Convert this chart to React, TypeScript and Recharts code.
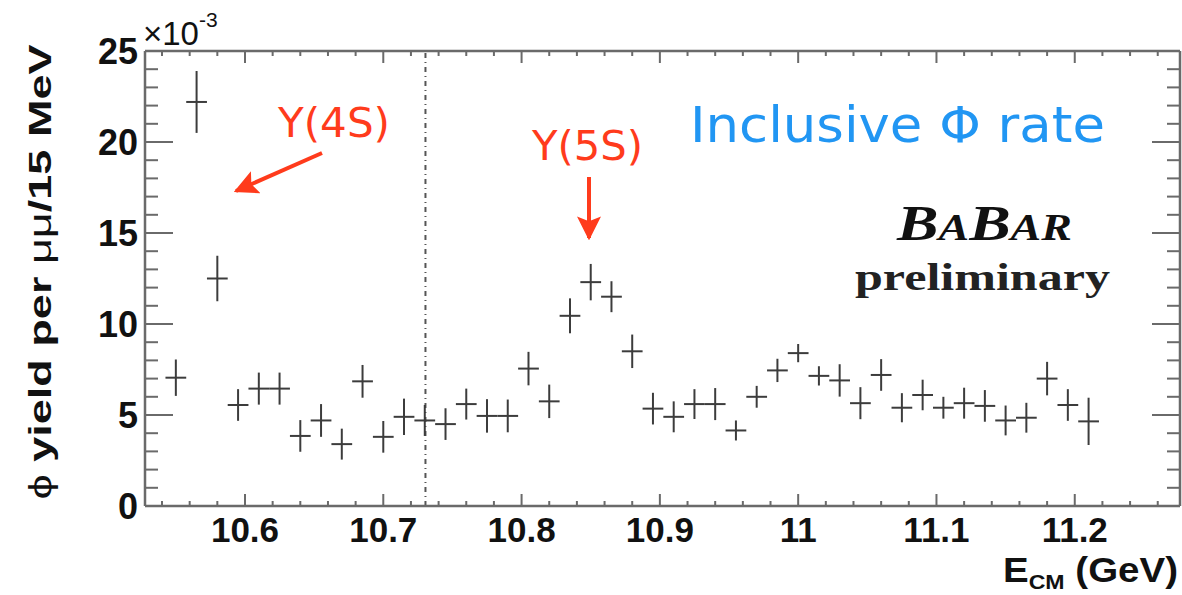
import React from 'react';
import { ScatterChart, Scatter, XAxis, YAxis, ErrorBar, ReferenceLine } from 'recharts';

// ---- data (E_CM in GeV, yield in units of 1e-3) ----
const energies = [10.55, 10.565, 10.58, 10.595, 10.61, 10.625, 10.64, 10.655, 10.67, 10.685, 10.7, 10.715, 10.73, 10.745, 10.76, 10.775, 10.79, 10.805, 10.82, 10.835, 10.85, 10.865, 10.88, 10.895, 10.91, 10.925, 10.94, 10.955, 10.97, 10.985, 11.0, 11.015, 11.03, 11.045, 11.06, 11.075, 11.09, 11.105, 11.12, 11.135, 11.15, 11.165, 11.18, 11.195, 11.21];
const yields = [7.05, 22.2, 12.5, 5.55, 6.45, 6.45, 3.85, 4.7, 3.4, 6.85, 3.8, 4.9, 4.7, 4.5, 5.6, 4.95, 4.95, 7.55, 5.75, 10.45, 12.3, 11.5, 8.5, 5.35, 4.9, 5.6, 5.6, 4.15, 6.0, 7.45, 8.4, 7.15, 6.9, 5.65, 7.2, 5.4, 6.1, 5.4, 5.65, 5.5, 4.7, 4.85, 7.0, 5.55, 4.65];
const yieldErrors = [1.0, 1.7, 1.25, 0.87, 0.88, 0.88, 0.87, 0.9, 0.85, 0.9, 0.87, 1.0, 0.85, 0.87, 0.85, 0.92, 0.9, 0.92, 0.92, 0.96, 1.0, 0.85, 0.92, 0.87, 0.85, 0.82, 0.88, 0.55, 0.6, 0.64, 0.5, 0.53, 0.89, 0.88, 0.87, 0.8, 0.84, 0.6, 0.85, 0.87, 0.82, 0.82, 0.92, 0.87, 1.3];
const binHalfWidth = 0.0075;
const upsilon4SThreshold = 10.7305;

// ---- axes ----
const xDomain = [10.5277, 11.2761];
const yDomain = [0, 25];
const xMajorTicks = [10.6, 10.7, 10.8, 10.9, 11.0, 11.1, 11.2];
const xTickLabels = ['10.6', '10.7', '10.8', '10.9', '11', '11.1', '11.2'];
const xMinorTicks = [10.54, 10.56, 10.58, 10.62, 10.64, 10.66, 10.68, 10.72, 10.74, 10.76, 10.78, 10.82, 10.84, 10.86, 10.88, 10.92, 10.94, 10.96, 10.98, 11.02, 11.04, 11.06, 11.08, 11.12, 11.14, 11.16, 11.18, 11.22, 11.24, 11.26];
const yMajorTicks = [0, 5, 10, 15, 20, 25];
const yTickLabels = ['0', '5', '10', '15', '20', '25'];
const yMinorTicks = [1, 2, 3, 4, 6, 7, 8, 9, 11, 12, 13, 14, 16, 17, 18, 19, 21, 22, 23, 24];

const data = energies.map((e, i) => ({ e, y: yields[i], ey: yieldErrors[i], ex: binHalfWidth }));

const xTicks = [...xMajorTicks, ...xMinorTicks].sort((a, b) => a - b);
const yTicks = [...yMajorTicks, ...yMinorTicks].sort((a, b) => a - b);

const axisColor = '#6a6a6a';
const markColor = '#3c3c3c';
const tickFont = '"Liberation Sans", Arial, Helvetica, sans-serif';

const majorIndex = (arr: number[], v: number) => arr.findIndex((t) => Math.abs(t - v) < 1e-6);

const BottomTick = (props: any) => {
  const { x, y, payload } = props;
  const idx = majorIndex(xMajorTicks, payload.value);
  const major = idx >= 0;
  return (
    <g>
      <line x1={x} x2={x} y1={y} y2={y - (major ? 12 : 5)} stroke={axisColor} strokeWidth={2} />
      {major && (
        <text x={x} y={y + 36} textAnchor="middle" fontFamily={tickFont} fontWeight="bold" fontSize={35} fill="#111">
          {xTickLabels[idx]}
        </text>
      )}
    </g>
  );
};

const TopTick = (props: any) => {
  const { x, y, payload } = props;
  const major = majorIndex(xMajorTicks, payload.value) >= 0;
  return <line x1={x} x2={x} y1={y} y2={y + (major ? 12 : 5)} stroke={axisColor} strokeWidth={2} />;
};

const LeftTick = (props: any) => {
  const { x, y, payload } = props;
  const idx = majorIndex(yMajorTicks, payload.value);
  const major = idx >= 0;
  return (
    <g>
      <line x1={x} x2={x + (major ? 28 : 13)} y1={y} y2={y} stroke={axisColor} strokeWidth={2} />
      {major && (
        <text x={x - 7} y={y + 13} textAnchor="end" fontFamily={tickFont} fontWeight="bold" fontSize={36} fill="#111">
          {yTickLabels[idx]}
        </text>
      )}
    </g>
  );
};

const RightTick = (props: any) => {
  const { x, y, payload } = props;
  const major = majorIndex(yMajorTicks, payload.value) >= 0;
  return <line x1={x} x2={x - (major ? 28 : 13)} y1={y} y2={y} stroke={axisColor} strokeWidth={2} />;
};

const EmptyShape = () => <g />;

const red = '#ff3b1c';
const blue = '#2196f3';

export default function App() {
  return (
    <div style={{ position: 'absolute', left: 0, top: 0, width: 1182, height: 595, background: '#fff' }}>
      <ScatterChart width={1182} height={595} margin={{ top: 0, right: 0, bottom: 0, left: 0 }}>
        <XAxis
          xAxisId="bottom"
          type="number"
          dataKey="e"
          domain={xDomain}
          allowDataOverflow
          ticks={xTicks}
          interval={0}
          orientation="bottom"
          height={89}
          tickSize={0}
          tickMargin={0}
          tickLine={false}
          axisLine={{ stroke: axisColor, strokeWidth: 2.5 }}
          tick={BottomTick}
        />
        <XAxis
          xAxisId="top"
          type="number"
          dataKey="e"
          domain={xDomain}
          allowDataOverflow
          ticks={xTicks}
          interval={0}
          orientation="top"
          height={51}
          tickSize={0}
          tickMargin={0}
          tickLine={false}
          axisLine={{ stroke: axisColor, strokeWidth: 2.5 }}
          tick={TopTick}
        />
        <YAxis
          yAxisId="left"
          type="number"
          dataKey="y"
          domain={yDomain}
          allowDataOverflow
          ticks={yTicks}
          interval={0}
          orientation="left"
          width={145}
          tickSize={0}
          tickMargin={0}
          tickLine={false}
          axisLine={{ stroke: axisColor, strokeWidth: 2.5 }}
          tick={LeftTick}
        />
        <YAxis
          yAxisId="right"
          type="number"
          dataKey="y"
          domain={yDomain}
          allowDataOverflow
          ticks={yTicks}
          interval={0}
          orientation="right"
          width={2}
          tickSize={0}
          tickMargin={0}
          tickLine={false}
          axisLine={{ stroke: axisColor, strokeWidth: 2.5 }}
          tick={RightTick}
        />
        <ReferenceLine
          xAxisId="bottom"
          yAxisId="left"
          x={upsilon4SThreshold}
          stroke="#555"
          strokeWidth={2}
          strokeDasharray="5 4 1 4"
        />
        <Scatter
          xAxisId="top"
          yAxisId="right"
          data={data}
          dataKey="y"
          shape={EmptyShape}
          isAnimationActive={false}
        />
        <Scatter
          xAxisId="bottom"
          yAxisId="left"
          data={data}
          dataKey="y"
          shape={EmptyShape}
          isAnimationActive={false}
        >
          <ErrorBar dataKey="ey" direction="y" width={0} stroke={markColor} strokeWidth={2} isAnimationActive={false} />
          <ErrorBar dataKey="ex" direction="x" width={0} stroke={markColor} strokeWidth={2} isAnimationActive={false} />
        </Scatter>
      </ScatterChart>

      <svg
        width={1182}
        height={595}
        style={{ position: 'absolute', left: 0, top: 0, pointerEvents: 'none' }}
      >
        <defs>
          <marker id="arrowHead" viewBox="0 0 10 10" refX="9" refY="5" markerWidth="6" markerHeight="6" markerUnits="strokeWidth" orient="auto">
            <path d="M0,0 L10,5 L0,10 L2,5 Z" fill={red} />
          </marker>
        </defs>

        {/* x 10^-3 multiplier */}
        <text x={143} y={45} fontFamily={tickFont} fontSize={33} fill="#111">
          ×10
          <tspan fontSize={21} dy={-18}>-3</tspan>
        </text>

        {/* y axis title */}
        <text
          transform="translate(51, 272) rotate(-90)"
          textAnchor="middle"
          fontFamily={tickFont}
          fontWeight="bold"
          fontSize={32}
          fill="#111"
          textLength={455}
          lengthAdjust="spacingAndGlyphs"
        >
          <tspan fontWeight="normal">ϕ</tspan> yield per <tspan fontWeight="normal">μμ</tspan>/15 MeV
        </text>

        {/* x axis title */}
        <text x={1003} y={582} fontFamily={tickFont} fontWeight="bold" fontSize={35} fill="#111" textLength={175} lengthAdjust="spacingAndGlyphs">
          E<tspan fontSize={21} dy={7}>CM</tspan>
          <tspan dy={-7}> (GeV)</tspan>
        </text>

        {/* Upsilon(4S) annotation */}
        <text x={278} y={137} fontFamily='"DejaVu Sans", sans-serif' fontSize={40} fill={red} textLength={112} lengthAdjust="spacingAndGlyphs">
          Υ(4S)
        </text>
        <line x1={322} y1={153} x2={236} y2={191} stroke={red} strokeWidth={4} markerEnd="url(#arrowHead)" />

        {/* Upsilon(5S) annotation */}
        <text x={532} y={160} fontFamily='"DejaVu Sans", sans-serif' fontSize={40} fill={red} textLength={111} lengthAdjust="spacingAndGlyphs">
          Υ(5S)
        </text>
        <line x1={589} y1={177} x2={589} y2={238} stroke={red} strokeWidth={4} markerEnd="url(#arrowHead)" />

        {/* Inclusive Phi rate */}
        <text x={690} y={142} fontFamily='"DejaVu Sans", sans-serif' fontSize={50} fill={blue} textLength={415} lengthAdjust="spacingAndGlyphs">
          Inclusive Φ rate
        </text>

        {/* BaBar preliminary */}
        <text x={897} y={240} fontFamily='"Liberation Serif", "DejaVu Serif", serif' fontStyle="italic" fontWeight="bold" fontSize={50} fill="#111" textLength={175} lengthAdjust="spacingAndGlyphs">
          B<tspan fontSize={37}>A</tspan>B<tspan fontSize={37}>AR</tspan>
        </text>
        <text x={855} y={290} fontFamily='"Liberation Serif", "DejaVu Serif", serif' fontWeight="bold" fontSize={38} fill="#222" textLength={255} lengthAdjust="spacingAndGlyphs">
          preliminary
        </text>
      </svg>
    </div>
  );
}
